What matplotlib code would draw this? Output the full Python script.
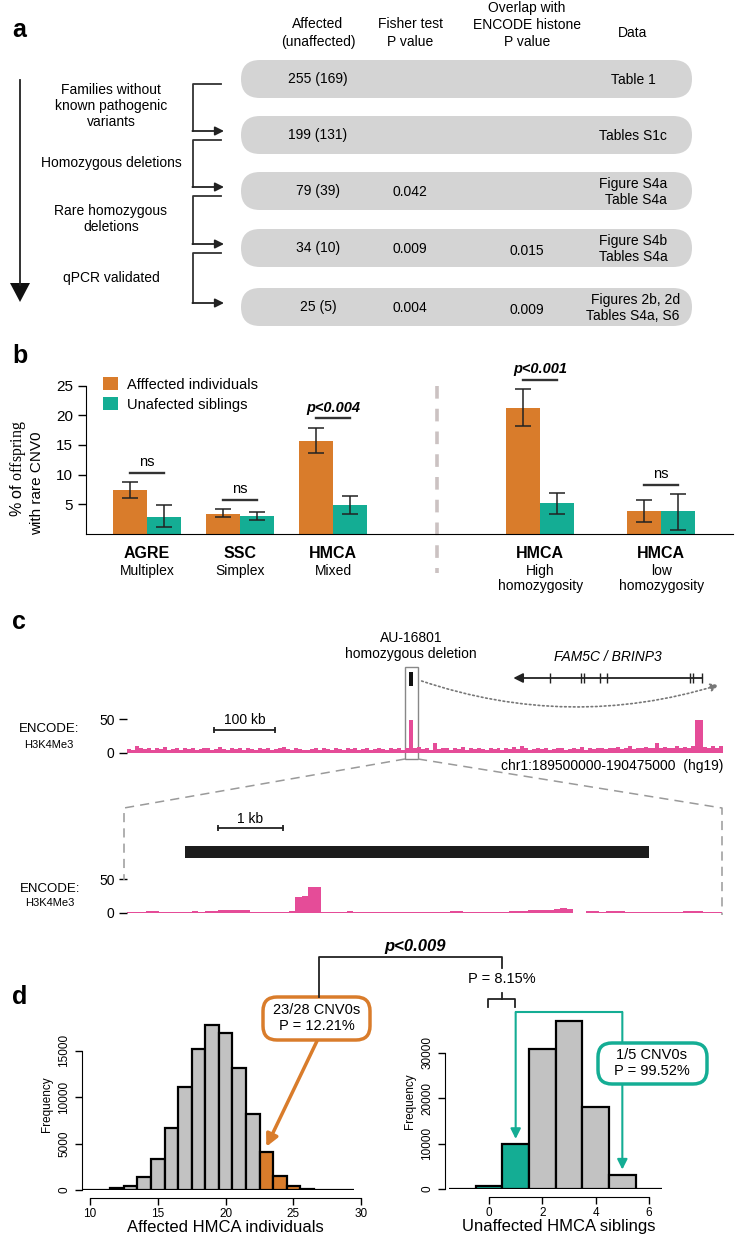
import numpy as np
import matplotlib.pyplot as plt
from matplotlib.patches import FancyBboxPatch, Rectangle, Polygon

plt.rcParams['font.family'] = ['Liberation Sans', 'DejaVu Sans']
plt.rcParams['mathtext.fontset'] = 'custom'
plt.rcParams['mathtext.rm'] = 'Liberation Serif'

ORANGE = '#d97c2b'
TEAL = '#14ad94'
PINK = '#e54c98'
BOXGRAY = '#d4d4d4'
HISTGRAY = '#c2c2c2'

# ---- panel a: filtering steps ----
step_labels = ['Families without\nknown pathogenic\nvariants', 'Homozygous deletions',
               'Rare homozygous\ndeletions', 'qPCR validated']
counts = ['255 (169)', '199 (131)', '79 (39)', '34 (10)', '25 (5)']
fisher_p = ['', '', '0.042', '0.009', '0.004']
encode_p = ['', '', '', '0.015', '0.009']
data_refs = ['Table 1', 'Tables S1c', 'Figure S4a\nTable S4a',
             'Figure S4b\nTables S4a', 'Figures 2b, 2d\nTables S4a, S6']

# ---- panel b: % offspring with rare CNV0 ----
cohorts = ['AGRE', 'SSC', 'HMCA', 'HMCA', 'HMCA']
cohort_sub = ['Multiplex', 'Simplex', 'Mixed', 'High\nhomozygosity', 'low\nhomozygosity']
affected = [7.4, 3.4, 15.6, 21.3, 3.9]
affected_lo = [6.0, 2.9, 13.7, 18.2, 2.1]
affected_hi = [8.7, 4.2, 17.9, 24.4, 5.7]
unaffected = [2.9, 3.0, 4.9, 5.3, 3.8]
unaffected_lo = [1.2, 2.4, 3.3, 3.4, 0.6]
unaffected_hi = [4.8, 3.7, 6.4, 6.9, 6.7]
sig = ['ns', 'ns', 'p<0.004', 'p<0.001', 'ns']
legend_labels = ['Afffected individuals', 'Unafected siblings']

# ---- panel c: ENCODE H3K4Me3 tracks ----
region_kb = 975   # chr1:189500000-190475000
h3k4me3_wide = [6, 5, 10, 7, 6, 8, 5, 7, 6, 9, 5, 6, 7, 5, 8,
                6, 7, 5, 6, 8, 7, 5, 6, 9, 6, 5, 7, 6, 8, 5,
                7, 6, 5, 8, 6, 7, 5, 6, 7, 9, 6, 5, 7, 6, 4,
                5, 6, 7, 5, 8, 6, 5, 7, 6, 5, 8, 6, 7, 5, 6,
                7, 5, 6, 8, 6, 5, 7, 6, 7, 5, 8, 48, 7, 9, 6,
                7, 5, 15, 6, 7, 8, 5, 7, 6, 9, 5, 7, 6, 8, 6,
                5, 7, 6, 8, 5, 7, 6, 9, 6, 11, 7, 5, 6, 8, 6,
                7, 5, 6, 7, 8, 5, 6, 7, 6, 9, 5, 7, 6, 8, 7,
                6, 8, 7, 9, 6, 7, 10, 6, 8, 7, 9, 7, 8, 14, 7,
                9, 8, 7, 10, 8, 9, 7, 10, 48, 48, 9, 8, 10, 7, 11]
zoom_kb = 9.2
h3k4me3_zoom = [1, 1, 2, 3, 3, 2, 2, 1, 2, 2, 3, 2, 3, 3, 4, 5, 5, 4, 5,
                1, 1, 1, 1, 1, 1, 3, 24, 25, 38, 38, 2, 1, 1, 2, 3,
                1, 1, 1, 1, 2, 2, 1, 1, 1, 1, 1, 1, 1, 2, 1, 3, 3, 1,
                1, 1, 1, 2, 2, 1, 3, 3, 3, 4, 5, 5, 5, 6, 7, 6, 0, 0,
                3, 3, 2, 3, 3, 3, 2, 1, 1, 1, 1, 1, 1, 1, 2, 3, 3, 3, 2, 1, 1]
deletion_kb = 465
gene_start, gene_end = 632, 941
exons_kb = [692, 743, 748, 774, 786, 921, 926, 941]
deletion_zoom = (0.9, 8.07)

# ---- panel d: permutation histograms ----
aff_bins = np.arange(10, 30)
aff_freq = [0, 40, 180, 480, 1430, 3330, 6630, 11100, 15130, 17740,
            16850, 13090, 8170, 4120, 1540, 430, 150, 40, 0, 30]
aff_hit = [23, 24, 25]
sib_bins = np.arange(-1, 7)
sib_freq = [0, 660, 9820, 30900, 36900, 18100, 3080, 0]
sib_hit = [0, 1]
sib_obs = [1, 5]

W, H = 736, 1241
fig = plt.figure(figsize=(W / 100, H / 100), dpi=100)


def add_ax(x0, y0, x1, y1):
    # axes from a pixel box, origin top left
    ax = fig.add_axes([x0 / W, 1 - y1 / H, (x1 - x0) / W, (y1 - y0) / H])
    ax.patch.set_visible(False)
    return ax


ov = add_ax(0, 0, W, H)
ov.set_xlim(0, W)
ov.set_ylim(H, 0)
ov.axis('off')
ov.set_zorder(10)


def panel_label(x, y, s):
    ov.text(x, y, s, fontsize=18, fontweight='bold', ha='left', va='center')


# ================= a =================
panel_label(12, 30, 'a')
hdr = dict(ha='center', va='center', fontsize=10, linespacing=1.3)
ov.text(318, 33, 'Affected\n(unaffected)', **hdr)
ov.text(410, 33, 'Fisher test\nP value', **hdr)
ov.text(527, 25, 'Overlap with\nENCODE histone\nP value', **hdr)
ov.text(633, 33, 'Data', **hdr)

row_y = [79, 135, 191, 248, 307]
for i, y in enumerate(row_y):
    ov.add_patch(FancyBboxPatch((241, y - 19), 451, 38, boxstyle='round,pad=0,rounding_size=19',
                                fc=BOXGRAY, ec='none'))
    ov.text(318, y, counts[i], ha='center', va='center', fontsize=10)
    ov.text(410, y + 1, fisher_p[i], ha='center', va='center', fontsize=10)
    ov.text(527, y + 3, encode_p[i], ha='center', va='center', fontsize=10)
    ov.text(633, y + 1, data_refs[i], ha='center', va='center', multialignment='right',
            fontsize=10, linespacing=1.25)

step_y = [106, 163, 219, 278]
for i, s in enumerate(step_labels):
    ov.text(111, step_y[i], s, ha='center', va='center', fontsize=10, linespacing=1.2)
    top, bot = row_y[i] + 5, row_y[i + 1] - 4
    ov.plot([221, 193, 193], [top, top, bot], color='#333', lw=1.3)
    ov.annotate('', xy=(224, bot), xytext=(192.4, bot),
                arrowprops=dict(arrowstyle='-|>', color='#222', lw=1.3, mutation_scale=13,
                                shrinkA=0, shrinkB=0))

ov.plot([20, 20], [80, 285], color='#222', lw=1.3)
ov.add_patch(Polygon([(10, 283), (30, 283), (20, 302)], closed=True, fc='#111', ec='none'))

# ================= b =================
panel_label(12, 356, 'b')
axb = add_ax(86, 360, 733, 534)
pos = np.array([0, 1, 2, 4.226, 5.527])
w = 0.366
axb.set_xlim(-0.656, 6.30)
axb.set_ylim(0, 29.3)
axb.bar(pos - w / 2, affected, w, color=ORANGE, label=legend_labels[0])
axb.bar(pos + w / 2, unaffected, w, color=TEAL, label=legend_labels[1])
eb = dict(fmt='none', ecolor='#222', elinewidth=1.1, capsize=6, capthick=1.1)
axb.errorbar(pos - w / 2, affected,
             yerr=[np.subtract(affected, affected_lo), np.subtract(affected_hi, affected)], **eb)
axb.errorbar(pos + w / 2, unaffected,
             yerr=[np.subtract(unaffected, unaffected_lo), np.subtract(unaffected_hi, unaffected)], **eb)
for i, s in enumerate(sig):
    y = max(affected_hi[i], unaffected_hi[i]) + 1.6
    axb.plot([pos[i] - w / 2, pos[i] + w / 2], [y, y], color='#333', lw=1.7)
    if s == 'ns':
        axb.text(pos[i], y + 0.6, s, ha='center', va='bottom', fontsize=10.5)
    else:
        axb.text(pos[i], y + 0.6, s, ha='center', va='bottom', fontsize=10.5,
                 fontweight='bold', fontstyle='italic')
    axb.text(pos[i], -3.2, cohorts[i], ha='center', va='center', fontsize=11.5, fontweight='bold')
    axb.text(pos[i], -5.0, cohort_sub[i], ha='center', va='top', fontsize=10, linespacing=1.15)

mid = (pos[2] + pos[3]) / 2
axb.plot([mid, mid], [24.9, -6.6], color='#cbc2c2', lw=2.6, ls=(0, (3.5, 2.8)), clip_on=False)

for sp in ['top', 'right']:
    axb.spines[sp].set_visible(False)
axb.spines['left'].set_bounds(0, 25)
axb.set_yticks([5, 10, 15, 20, 25])
axb.set_xticks([])
axb.tick_params(axis='y', labelsize=11, length=6, width=1)
axb.legend(loc='upper left', bbox_to_anchor=(0.027, 0.90), frameon=False, fontsize=10.5,
           handlelength=1.0, handleheight=1.0, handletextpad=0.6, borderaxespad=0,
           borderpad=0, labelspacing=0.35)
ov.text(18, 517, '% of $\\mathrm{offspring}$', rotation=90, ha='center', va='bottom', fontsize=11.5)
ov.text(37, 483, 'with rare CNV0', rotation=90, ha='center', va='center', fontsize=11)

# ================= c =================
panel_label(12, 622, 'c')

# upper region annotations, x in kb
axg = add_ax(127, 600, 723, 770)
axg.set_xlim(0, region_kb)
axg.set_ylim(770, 600)
axg.axis('off')
axg.text(deletion_kb, 646, 'AU-16801\nhomozygous deletion', ha='center', va='center',
         fontsize=10, linespacing=1.25)
axg.text((gene_start + gene_end) / 2, 657, 'FAM5C / BRINP3', ha='center', va='center',
         fontsize=10, fontstyle='italic')
axg.annotate('', xy=(gene_start, 678), xytext=(gene_end, 678),
             arrowprops=dict(arrowstyle='-|>', color='#222', lw=1.3, mutation_scale=14,
                             shrinkA=0, shrinkB=0))
axg.vlines(exons_kb, 673, 683, color='#222', lw=1)
axg.add_patch(Rectangle((deletion_kb - 10.5, 667), 21, 92, fill=False, ec='#888', lw=1))
axg.add_patch(Rectangle((deletion_kb - 3, 672), 6, 14, fc='#111', ec='none'))
axg.annotate('', xy=(968, 685), xytext=(482, 681),
             arrowprops=dict(arrowstyle='-|>', color='#777', lw=1.2, ls=':', mutation_scale=12,
                             connectionstyle='arc3,rad=0.16', shrinkA=0, shrinkB=0))
axg.plot([142, 242], [730, 730], color='#222', lw=1.3)
axg.vlines([142, 242], 727, 733, color='#222', lw=1.3)
axg.text(192, 720, '100 kb', ha='center', va='center', fontsize=10)
axg.text(region_kb, 766, 'chr1:189500000-190475000  (hg19)', ha='right', va='center', fontsize=10)


def track(ax, vals, span):
    edges = np.linspace(0, span, len(vals) + 1)
    ax.stairs(vals, edges, fill=True, color=PINK, lw=0)
    ax.set_xlim(0, span)
    ax.set_ylim(0, 70.6)
    for sp in ax.spines.values():
        sp.set_visible(False)
    ax.set_xticks([])
    ax.set_yticks([0, 50])
    ax.tick_params(axis='y', length=6, width=1, labelsize=10, pad=3)


axt = add_ax(127, 705, 723, 753)
track(axt, h3k4me3_wide, region_kb)
ov.text(49, 729, 'ENCODE:', ha='center', va='center', fontsize=9.5)
ov.text(49, 745, 'H3K4Me3', ha='center', va='center', fontsize=8)

dash = dict(color='#9a9a9a', lw=1.1, ls=(0, (6, 4)))
ov.plot([405, 124, 124], [759, 808, 880], **dash)
ov.plot([418, 722, 722], [759, 808, 915], **dash)

axz = add_ax(127, 810, 722, 870)
axz.set_xlim(0, zoom_kb)
axz.set_ylim(870, 810)
axz.axis('off')
axz.plot([1.41, 2.41], [828, 828], color='#222', lw=1.3)
axz.vlines([1.41, 2.41], 825, 831, color='#222', lw=1.3)
axz.text(1.91, 819, '1 kb', ha='center', va='center', fontsize=10)
axz.add_patch(Rectangle((deletion_zoom[0], 846), deletion_zoom[1] - deletion_zoom[0], 12,
                        fc='#1c1c1c', ec='none'))

axt2 = add_ax(127, 865, 722, 913)
track(axt2, h3k4me3_zoom, zoom_kb)
ov.text(50, 889, 'ENCODE:', ha='center', va='center', fontsize=9.5)
ov.text(50, 903, 'H3K4Me3', ha='center', va='center', fontsize=8)

# ================= d =================
panel_label(12, 997, 'd')


def hist_axes(ax, bins, freq, hit, color, yt, xt, xlabel):
    cols = [color if b in hit else HISTGRAY for b in bins]
    ax.bar(bins, freq, width=1, color=cols, edgecolor='black', linewidth=1.6)
    for sp in ['top', 'right']:
        ax.spines[sp].set_visible(False)
    ax.spines['left'].set_bounds(yt[0], yt[-1])
    ax.spines['bottom'].set_position(('outward', 6))
    ax.spines['bottom'].set_bounds(xt[0], xt[-1])
    ax.set_yticks(yt)
    ax.set_yticklabels([str(v) for v in yt], rotation=90, va='center')
    ax.set_xticks(xt)
    ax.tick_params(axis='both', labelsize=8.5, length=5, width=1)
    ax.tick_params(axis='x', pad=2)
    ax.set_ylabel('Frequency', fontsize=8.5, labelpad=4)
    ax.set_xlabel(xlabel, fontsize=12, labelpad=0)


axL = add_ax(82, 1018, 368, 1190)
axL.set_xlim(9.41, 30.5)
axL.set_ylim(0, 18500)
hist_axes(axL, aff_bins, aff_freq, aff_hit, ORANGE, [0, 5000, 10000, 15000],
          [10, 15, 20, 25, 30], 'Affected HMCA individuals')

axR = add_ax(445, 1014, 673, 1189)
axR.set_xlim(-1.65, 6.9)
axR.set_ylim(0, 38500)
hist_axes(axR, sib_bins, sib_freq, sib_hit, TEAL, [0, 10000, 20000, 30000],
          [0, 2, 4, 6], 'Unaffected HMCA siblings')

# observed value arrows
axL.annotate('', xy=(aff_hit[0], 4650), xytext=(317, H - 1041), textcoords='figure pixels',
             arrowprops=dict(arrowstyle='-|>', color=ORANGE, lw=2.5, mutation_scale=18,
                             shrinkA=0, shrinkB=0))
top = 38900
axR.plot(sib_obs, [top, top], color=TEAL, lw=1.5, clip_on=False)
for x in sib_obs:
    axR.annotate('', xy=(x, sib_freq[list(sib_bins).index(x)] + 1200), xytext=(x, top),
                 arrowprops=dict(arrowstyle='-|>', color=TEAL, lw=1.5, mutation_scale=15,
                                 shrinkA=0, shrinkB=0), annotation_clip=False)

ov.add_patch(FancyBboxPatch((263, 997), 107, 43, boxstyle='round,pad=0,rounding_size=14',
                            fc='white', ec=ORANGE, lw=2.5))
ov.text(317, 1018, '23/28 CNV0s\nP = 12.21%', ha='center', va='center', fontsize=10.5,
        linespacing=1.15)
ov.add_patch(FancyBboxPatch((598, 1043), 109, 41, boxstyle='round,pad=0,rounding_size=14',
                            fc='white', ec=TEAL, lw=2.5))
ov.text(652, 1063, '1/5 CNV0s\nP = 99.52%', ha='center', va='center', fontsize=10.5,
        linespacing=1.15)

ov.plot([319, 319, 502, 502], [997, 957, 957, 968], color='#222', lw=1.3)
ov.text(415, 946, 'p<0.009', ha='center', va='center', fontsize=12, fontweight='bold',
        fontstyle='italic')
ov.text(502, 979, 'P = 8.15%', ha='center', va='center', fontsize=10.5)
ov.plot([502, 502], [993, 999], color='#222', lw=1.3)
ov.plot([488, 488, 515, 515], [1007, 999, 999, 1007], color='#222', lw=1.3)

fig.savefig('out.png', dpi=100)
